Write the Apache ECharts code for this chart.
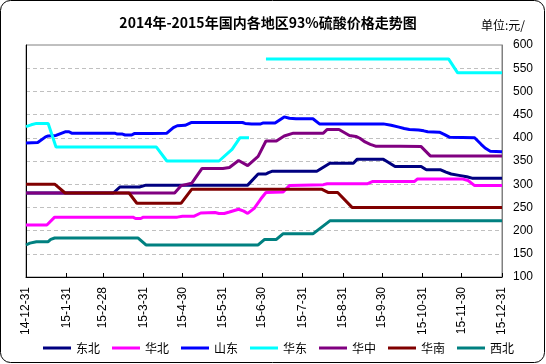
<!DOCTYPE html>
<html><head><meta charset="utf-8">
<script src="https://cdn.jsdelivr.net/npm/echarts@6/dist/echarts.min.js"></script>
<style>html,body{margin:0;padding:0;background:#fff}#c{width:546px;height:364px}</style>
</head><body><div id="c"></div>
<script>
const titleText = '2014年-2015年国内各地区93%硫酸价格走势图';
const unitText = '单位:元/';
const seriesNames = ['东北', '华北', '山东', '华东', '华中', '华南', '西北'];
const seriesColors = ['#000080', '#FF00FF', '#0000FF', '#00FFFF', '#800080', '#800000', '#008080'];
const tickLabels = ['14-12-31', '15-1-31', '15-2-28', '15-3-31', '15-4-30', '15-5-31', '15-6-30',
  '15-7-31', '15-8-31', '15-9-30', '15-10-31', '15-11-30', '15-12-31'];
const yMin = 100, yMax = 600, yStep = 50;

// [date, price]
const dongbei = [['2014-12-31',281],['2015-03-08',281],['2015-03-13',294],['2015-03-28',294],['2015-04-02',298],
  ['2015-06-19',298],['2015-06-27',322],['2015-07-03',322],['2015-07-05',325],['2015-07-08',328],['2015-08-11',328],
  ['2015-08-21',345],['2015-09-08',345],['2015-09-11',354],['2015-10-01',354],['2015-10-10',338],['2015-10-30',338],
  ['2015-11-03',331],['2015-11-14',331],['2015-11-18',326],['2015-11-22',322],['2015-11-28',319],['2015-12-04',316],
  ['2015-12-08',313],['2015-12-31',313]];
const huabei = [['2014-12-31',212],['2015-01-16',212],['2015-01-22',229],['2015-03-23',229],['2015-03-25',226],
  ['2015-03-29',226],['2015-03-31',229],['2015-04-26',229],['2015-04-30',231],['2015-05-09',231],['2015-05-14',238],
  ['2015-05-25',239],['2015-05-28',237],['2015-06-01',237],['2015-06-05',240],['2015-06-12',246],['2015-06-16',242],
  ['2015-06-19',237],['2015-06-24',248],['2015-06-29',268],['2015-07-03',282],['2015-07-16',283],['2015-07-21',297],
  ['2015-08-16',299],['2015-08-19',301],['2015-09-19',301],['2015-09-23',306],['2015-10-25',306],['2015-10-27',311],
  ['2015-12-01',311],['2015-12-05',308],['2015-12-10',297],['2015-12-31',297]];
const shandong = [['2014-12-31',389],['2015-01-09',390],['2015-01-15',402],['2015-01-17',404],['2015-01-23',405],
  ['2015-01-30',413],['2015-02-02',413],['2015-02-04',410],['2015-03-09',410],['2015-03-11',408],['2015-03-15',408],
  ['2015-03-17',406],['2015-03-22',406],['2015-03-24',409],['2015-04-06',409],['2015-04-18',410],['2015-04-23',422],
  ['2015-04-26',426],['2015-05-02',427],['2015-05-07',433],['2015-06-15',433],['2015-06-17',431],['2015-06-22',430],
  ['2015-06-29',430],['2015-07-01',432],['2015-07-10',432],['2015-07-17',445],['2015-07-21',442],['2015-07-26',441],
  ['2015-08-08',441],['2015-08-13',430],['2015-10-01',430],['2015-10-07',427],['2015-10-13',423],['2015-10-17',420],
  ['2015-10-21',418],['2015-10-28',417],['2015-11-01',415],['2015-11-04',413],['2015-11-13',412],['2015-11-17',407],
  ['2015-11-21',401],['2015-12-10',400],['2015-12-15',386],['2015-12-18',378],['2015-12-22',371],['2015-12-31',370]];
const huadong = [['2014-12-31',424],['2015-01-04',428],['2015-01-08',431],['2015-01-17',431],['2015-01-23',380],
  ['2015-04-10',380],['2015-04-18',350],['2015-05-28',350],['2015-06-07',375],['2015-06-13',400],['2015-06-20',400],
  ['2015-06-26',null],['2015-07-03',570],['2015-11-20',570],['2015-11-27',540],['2015-12-31',540]];
const huazhong = [['2014-12-31',281],['2015-04-24',281],['2015-04-29',297],['2015-05-07',302],['2015-05-15',334],
  ['2015-05-31',334],['2015-06-05',336],['2015-06-12',351],['2015-06-19',340],['2015-06-27',360],['2015-07-03',393],
  ['2015-07-11',393],['2015-07-17',404],['2015-07-24',410],['2015-08-16',410],['2015-08-19',418],['2015-08-28',418],
  ['2015-09-05',405],['2015-09-10',403],['2015-09-13',399],['2015-09-17',391],['2015-09-21',386],['2015-09-25',382],
  ['2015-10-14',382],['2015-10-30',381],['2015-11-06',361],['2015-12-31',361]];
const huanan = [['2014-12-31',300],['2015-01-22',300],['2015-01-30',281],['2015-03-20',281],['2015-03-26',259],
  ['2015-04-29',259],['2015-05-07',289],['2015-08-15',289],['2015-08-20',282],['2015-08-27',282],['2015-09-07',250],
  ['2015-12-31',250]];
const xibei = [['2014-12-31',169],['2015-01-03',173],['2015-01-08',176],['2015-01-17',176],['2015-01-19',181],
  ['2015-01-22',184],['2015-03-27',184],['2015-04-02',169],['2015-06-27',169],['2015-07-02',181],['2015-07-11',181],
  ['2015-07-16',193],['2015-08-08',193],['2015-08-21',221],['2015-12-31',221]];
const seriesData = [dongbei, huabei, shandong, huadong, huazhong, huanan, xibei];

const START = Date.UTC(2014, 11, 31);
const DAY = 86400000;
function dayIdx(s) { const p = s.split('-').map(Number); return Math.round((Date.UTC(p[0], p[1] - 1, p[2]) - START) / DAY); }
const categories = [];
for (let i = 0; i <= 365; i++) {
  const dt = new Date(START + i * DAY);
  categories.push(String(dt.getUTCFullYear()).slice(2) + '-' + (dt.getUTCMonth() + 1) + '-' + dt.getUTCDate());
}
const tickSet = new Set(tickLabels);
const showTick = (idx, val) => tickSet.has(categories[idx]);

const chart = echarts.init(document.getElementById('c'), null, { renderer: 'canvas' });
const numFont = '"Liberation Sans", Arial, sans-serif';
const cjkFont = '"Noto Sans CJK SC", "Liberation Sans", sans-serif';

chart.setOption({
  animation: false,
  backgroundColor: '#fff',
  graphic: [
    { type: 'rect', shape: { x: 0.5, y: 0.5, width: 544, height: 362, r: 10 }, style: { fill: 'none', stroke: '#000', lineWidth: 1 }, z: 100 },
    { type: 'text', x: 268, y: 23, style: { text: titleText, font: 'bold 14px ' + cjkFont, fill: '#000', textAlign: 'center', textVerticalAlign: 'middle' } },
    { type: 'text', x: 481, y: 25, style: { text: unitText, font: '12px ' + cjkFont, fill: '#000', textAlign: 'left', textVerticalAlign: 'middle' } }
  ],
  grid: { left: 26, right: 44, top: 45, bottom: 87, show: true, borderColor: '#808080', borderWidth: 1, backgroundColor: 'transparent' },
  legend: {
    data: seriesNames, left: 43, top: 342, padding: 0, itemGap: 12, itemWidth: 28, itemHeight: 3, icon: 'rect',
    textStyle: { fontSize: 12, color: '#000', fontFamily: cjkFont }
  },
  xAxis: {
    type: 'category', data: categories, boundaryGap: false,
    axisLine: { lineStyle: { color: '#000', width: 1 } },
    axisTick: { show: true, inside: true, length: 4, interval: showTick, lineStyle: { color: '#000' } },
    axisLabel: { interval: showTick, rotate: 90, margin: 10, fontSize: 12, color: '#000', fontFamily: numFont },
    splitLine: { show: false }
  },
  yAxis: [
    {
      type: 'value', position: 'right', min: yMin, max: yMax, interval: yStep,
      axisLine: { show: true, lineStyle: { color: '#808080' } },
      axisTick: { show: false },
      axisLabel: { margin: 11, fontSize: 12, color: '#000', fontFamily: numFont },
      splitLine: { show: true, showMinLine: false, showMaxLine: false, lineStyle: { color: '#C0C0C0', type: [4, 3] } }
    },
    {
      type: 'value', position: 'left', min: yMin, max: yMax, interval: yStep,
      axisLine: { show: true, onZero: false, lineStyle: { color: '#000' } },
      axisTick: { show: false }, axisLabel: { show: false }, splitLine: { show: false }
    }
  ],
  series: seriesNames.map((name, i) => ({
    name, type: 'line', yAxisIndex: 0, symbol: 'none', connectNulls: false,
    color: seriesColors[i],
    lineStyle: { width: 3, color: seriesColors[i] },
    data: seriesData[i].map(p => [dayIdx(p[0]), p[1]])
  }))
});
</script></body></html>
